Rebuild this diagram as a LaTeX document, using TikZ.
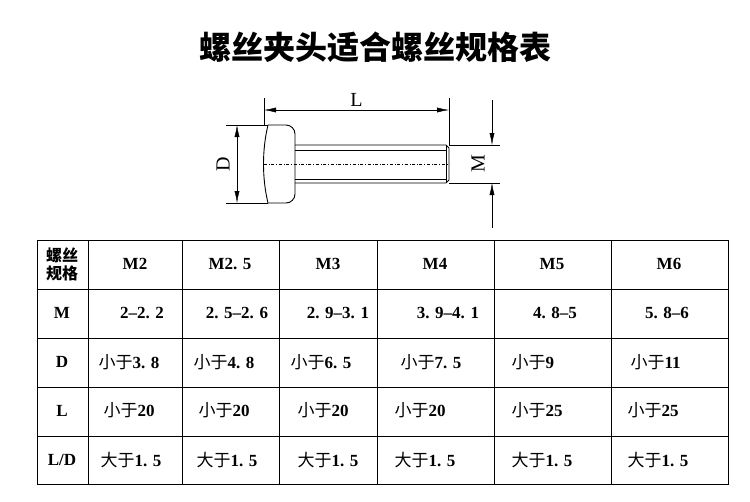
\documentclass[tikz,border=0pt]{standalone}
\usepackage{fontspec}
\setmainfont{Liberation Serif}
\newfontfamily\cjk{Noto Sans CJK SC}
\usetikzlibrary{arrows.meta}

\begin{document}
\begin{tikzpicture}[x=1pt,y=-1pt,
    cell/.style={font=\bfseries\fontsize{17}{18}\selectfont},
    dim/.style={{Latex[length=12pt,width=5pt]}-{Latex[length=12pt,width=5pt]}},
    part/.style={line width=0.9pt}]
    \useasboundingbox (0,0) rectangle (750,501);
    \node[font=\cjk\bfseries\fontsize{32}{34}\selectfont] (title) at (375,47) {螺丝夹头适合螺丝规格表};

    % screw
    \draw[part] (295,145) -- (446,145) -- (449,148) -- (449,180) -- (446,183) -- (295,183);
    \draw[thin] (295,150) -- (446,150) (295,179) -- (446,179) (446,145) -- (446,183);
    \draw[part,rounded corners=9pt] (268,203) -- (295,203) -- (295,125) -- (268,125);
    \draw[part] (268,125) .. controls (262,150) and (262,178) .. (268,203);
    \draw[thin,dash dot] (264,164) -- (449,164);

    % dimensions
    \coordinate (l1) at (264,110); \coordinate (l2) at (449,110);
    \draw[thin] (264,98) -- (264,125) (449,98) -- (449,145);
    \draw[thin,dim] (l1) -- node[above,font=\fontsize{20}{20}\selectfont] (lenL) {L} (l2);
    \coordinate (d1) at (237,125); \coordinate (d2) at (237,203);
    \draw[thin] (226,125) -- (268,125) (226,203) -- (268,203);
    \draw[thin,dim] (d1) -- (d2);
    \node[rotate=90,font=\fontsize{20}{20}\selectfont] (diaD) at (223,164) {D};
    \draw[thin] (449,145) -- (500,145) (449,183) -- (500,183);
    \coordinate (m1) at (492,145); \coordinate (m2) at (492,183);
    \draw[thin,-{Latex[length=12pt,width=5pt]}] (492,100) -- (m1);
    \draw[thin,-{Latex[length=12pt,width=5pt]}] (492,228) -- (m2);
    \node[rotate=90,font=\fontsize{20}{20}\selectfont] (diaM) at (478,164) {M};

    % table
    \draw[line width=0.8pt] (37,240) rectangle (728,484);
    \foreach \x in {88,182,279,377,494,611} \draw[line width=0.8pt] (\x,240) -- (\x,484);
    \foreach \y in {289,338,387,436} \draw[line width=0.8pt] (37,\y) -- (728,\y);
    \node[cell,align=center,font=\cjk\bfseries\fontsize{16}{18}\selectfont] (head) at (62,264) {螺丝\\规格};
    \foreach \t [count=\i] in {M,D,L,L/D} \node[cell] (row\i) at (62,{264+49*\i}) {\t};
    \foreach \t/\x [count=\i] in {M2/135,M2. 5/230,M3/328,M4/435,M5/552,M6/669}
        \node[cell] (col\i) at (\x,264) {\t};
    \foreach \t/\x in {2--2. 2/142,2. 5--2. 6/237,2. 9--3. 1/338,3. 9--4. 1/448,4. 8--5/555,5. 8--6/667}
        \node[cell] at (\x,313) {\t};
    \foreach \t/\x in {3. 8/95,4. 8/190,6. 5/287,7. 5/397,9/508,11/627}
        \node[cell,anchor=west] at (\x,362) {{\cjk\mdseries 小于}\t};
    \foreach \t/\x in {20/100,20/195,20/294,20/391,25/508,25/624}
        \node[cell,anchor=west] at (\x,410) {{\cjk\mdseries 小于}\t};
    \foreach \x in {97,193,294,391,508,624}
        \node[cell,anchor=west] at (\x,460) {{\cjk\mdseries 大于}1. 5};
\end{tikzpicture}
\end{document}
